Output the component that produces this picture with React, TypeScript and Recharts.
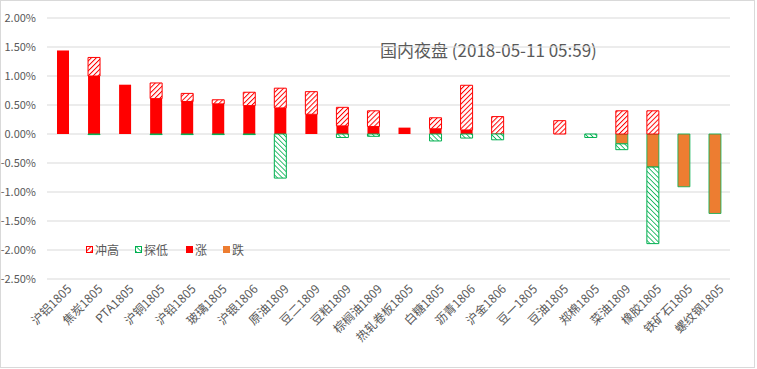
import { BarChart, Bar, XAxis, YAxis, CartesianGrid } from 'recharts';

const categories = [
  '沪铝1805', '焦炭1805', 'PTA1805', '沪铜1805', '沪铅1805', '玻璃1805', '沪银1806', '原油1809',
  '豆二1809', '豆粕1809', '棕榈油1809', '热轧卷板1805', '白糖1805', '沥青1806', '沪金1806',
  '豆一1805', '豆油1805', '郑棉1805', '菜油1809', '橡胶1805', '铁矿石1805', '螺纹钢1805',
];

// 涨: close above prev settle
const rise = [1.44, 1.0, 0.85, 0.61, 0.56, 0.52, 0.49, 0.45, 0.34, 0.14, 0.13, 0.11, 0.09, 0.07, 0, 0, 0, 0, 0, 0, 0, 0];
// 跌: close below prev settle
const fall = [0, 0, 0, 0, 0, 0, 0, 0, 0, 0, 0, 0, 0, 0, 0, 0, 0, 0, -0.17, -0.57, -0.91, -1.37];
// 冲高: extra reach of the high
const highExt = [0, 0.32, 0, 0.27, 0.14, 0.07, 0.23, 0.34, 0.39, 0.32, 0.27, 0, 0.19, 0.77, 0.3, 0, 0.23, 0, 0.4, 0.4, 0, 0];
// 探低: extra reach of the low
const lowExt = [0, -0.01, 0, -0.01, -0.01, -0.01, -0.01, -0.76, 0, -0.06, -0.04, 0, -0.12, -0.07, -0.1, 0, 0, -0.06, -0.1, -1.32, 0, 0];

const yTicks = [-2.5, -2, -1.5, -1, -0.5, 0, 0.5, 1, 1.5, 2];

const data = categories.map((name, i) => ({
  name,
  rise: rise[i],
  fall: fall[i],
  high: highExt[i],
  low: lowExt[i],
}));

const RED = '#FF0000';
const GREEN = '#00B050';
const ORANGE = '#ED7D31';
const TEXT = '#595959';
const FONT = '"Noto Sans CJK SC", "Noto Sans", sans-serif';

const XTick = ({ x, y, payload }: any) => (
  <g transform={`translate(${x},${y})`}>
    <text x={5} y={0} dy={9} textAnchor="end" transform="rotate(-45)" fontSize={12} fill={TEXT} fontFamily={FONT}>
      {payload.value}
    </text>
  </g>
);

const legendItems = [
  { label: '冲高', left: 86, fill: 'url(#hatchHigh)', stroke: RED },
  { label: '探低', left: 135, fill: 'url(#hatchLow)', stroke: GREEN },
  { label: '涨', left: 186, fill: RED, stroke: RED },
  { label: '跌', left: 223, fill: ORANGE, stroke: ORANGE },
];

export default function App() {
  return (
    <div style={{ position: 'absolute', left: 0, top: 0, width: 757, height: 369, background: '#fff' }}>
      <div style={{ position: 'absolute', left: 0, top: 0, width: 755, height: 368, border: '1px solid #d9d9d9', boxSizing: 'border-box' }} />
      <div
        style={{
          position: 'absolute', left: 380, top: 37, fontFamily: FONT, fontSize: 17, color: TEXT, whiteSpace: 'nowrap',
        }}
      >
        国内夜盘 (2018-05-11 05:59)
      </div>
      <BarChart
        width={757}
        height={369}
        data={data}
        stackOffset="sign"
        barSize={12}
        margin={{ top: 18, right: 27, left: 0, bottom: 0 }}
      >
        <defs>
          <pattern id="hatchHigh" patternUnits="userSpaceOnUse" width="3.5" height="3.5" patternTransform="rotate(45)">
            <rect width="3.5" height="3.5" fill="#fff" />
            <line x1="0" y1="0" x2="0" y2="3.5" stroke={RED} strokeWidth="2" />
          </pattern>
          <pattern id="hatchLow" patternUnits="userSpaceOnUse" width="3.5" height="3.5" patternTransform="rotate(-45)">
            <rect width="3.5" height="3.5" fill="#fff" />
            <line x1="0" y1="0" x2="0" y2="3.5" stroke={GREEN} strokeWidth="1.6" />
          </pattern>
        </defs>
        <CartesianGrid vertical={false} stroke="#d9d9d9" />
        <XAxis
          dataKey="name"
          interval={0}
          height={90}
          axisLine={false}
          tickLine={false}
          tick={<XTick />}
        />
        <YAxis
          domain={[-2.5, 2]}
          ticks={yTicks}
          width={47}
          axisLine={false}
          tickLine={false}
          tickFormatter={(v: number) => `${v.toFixed(2)}%`}
          tick={{ fontSize: 11, fill: TEXT, fontFamily: FONT, dx: -3 }}
        />
        <Bar dataKey="rise" stackId="a" fill={RED} isAnimationActive={false} />
        <Bar dataKey="fall" stackId="a" fill={ORANGE} stroke={GREEN} strokeWidth={0.8} isAnimationActive={false} />
        <Bar dataKey="high" stackId="a" fill="url(#hatchHigh)" stroke={RED} strokeWidth={1} isAnimationActive={false} />
        <Bar dataKey="low" stackId="a" fill="url(#hatchLow)" stroke={GREEN} strokeWidth={1} isAnimationActive={false} />
      </BarChart>
      {legendItems.map((it) => (
        <div
          key={it.label}
          style={{
            position: 'absolute', left: it.left, top: 240, height: 18, display: 'flex', alignItems: 'center', gap: 2,
            fontFamily: FONT, fontSize: 12, color: TEXT, whiteSpace: 'nowrap',
          }}
        >
          <svg width={7} height={7}>
            <rect x={0.5} y={0.5} width={6} height={6} fill={it.fill} stroke={it.stroke} strokeWidth={1} />
          </svg>
          <span>{it.label}</span>
        </div>
      ))}
    </div>
  );
}
